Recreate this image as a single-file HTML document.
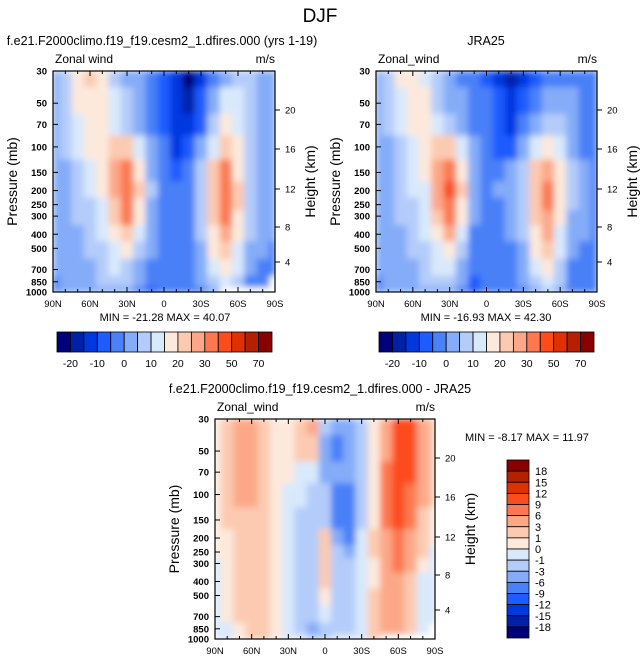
<!DOCTYPE html>
<html><head><meta charset="utf-8"><style>
html,body{margin:0;padding:0;background:#fff;}
svg{display:block;font-family:"Liberation Sans",sans-serif;}
</style></head><body>
<svg id="chart" width="641" height="664" viewBox="0 0 641 664" xmlns="http://www.w3.org/2000/svg">
<defs>
<filter id="smooth" x="0" y="0" width="1" height="1" filterUnits="objectBoundingBox"><feGaussianBlur stdDeviation="3.2" edgeMode="duplicate"/></filter>
</defs>
<text x="320" y="22" font-size="19" text-anchor="middle">DJF</text>
</svg>
<script>
const lats = [90,80,70,60,50,40,30,20,10,0,-10,-20,-30,-40,-50,-60,-70,-80,-90];
const plevs = [30,50,70,100,150,200,250,300,400,500,700,850,1000];
const modelU = [
[2,8,17,21,15,8,4,2,-2,-6,-12,-22,-13,-4,3,6,5,2,1],
[2,7,15,19,17,10,6,3,-2,-7,-14,-17,-9,2,11,12,8,3,1],
[1,6,12,17,18,14,8,4,-1,-6,-13,-14,-6,6,16,14,8,3,1],
[1,5,10,15,18,24,22,10,2,-4,-11,-10,0,14,20,15,8,3,1],
[1,4,8,12,16,26,33,18,4,-3,-8,-5,5,20,30,18,8,3,1],
[1,4,7,10,15,26,35,20,5,-2,-4,-2,8,24,33,20,8,3,1],
[1,3,6,9,14,24,34,18,4,-2,-3,-2,8,24,32,20,8,3,1],
[1,3,5,8,13,22,30,16,3,-3,-3,-2,7,22,30,18,7,2,1],
[1,2,4,7,11,17,22,12,1,-3,-3,-2,5,18,26,16,5,2,0],
[1,2,3,6,9,14,17,8,0,-3,-3,-2,3,15,22,14,3,0,-1],
[0,1,2,4,7,10,9,3,-4,-3,-2,-2,1,10,17,10,1,-2,-3],
[-2,0,1,3,5,7,5,0,-5,-4,-3,-3,0,6,12,6,-1,-3,null],
[-3,0,1,2,4,3,1,-3,-6,-3,-3,-4,-1,3,null,null,null,null,null]];
const jraU = [
[1,6,15,18,14,8,3,-1,-3,-8,-12,-18,-12,-6,-3,-2,-2,-2,-2],
[1,6,14,17,15,9,4,0,-2,-2,-10,-14,-8,-2,2,3,0,-2,-2],
[1,5,11,15,15,12,7,2,-1,-5,-9,-11,-4,4,8,6,1,-2,-2],
[1,4,9,13,16,22,24,10,0,-4,-8,-7,2,14,18,12,3,-1,-2],
[1,3,7,11,15,28,36,18,2,-3,-2,1,7,20,26,16,5,0,-1],
[1,3,6,10,14,28,41,20,3,-3,0,2,9,24,30,18,5,0,-1],
[1,3,6,9,13,26,38,18,2,-4,-1,2,9,24,31,18,5,0,-1],
[1,3,5,8,12,24,34,15,0,-4,-2,1,8,22,28,17,4,0,-1],
[1,2,4,7,10,18,26,10,-1,-4,-3,0,6,18,25,14,3,0,-1],
[1,2,3,6,9,14,18,6,-2,-4,-3,-1,3,15,21,12,1,-1,-2],
[0,1,2,4,7,10,10,2,-4,-5,-3,-2,1,10,16,8,-1,-2,-2],
[-1,0,1,3,5,7,5,0,-6,-5,-3,-3,0,6,11,5,-2,-3,-2],
[-2,0,1,2,3,3,1,-3,-7,-4,-3,-4,-1,3,5,1,-2,-3,-2]];
const diffU = [
[0.5,2,4,4,2,0.5,0.5,2,4,-2,-4,-4,-2,0.5,4,10,10,4,2],
[0.5,2,4,4,2,0.5,0.5,1,2,-4,-7,-4,-2,0.5,5,11,11,4,2],
[0.5,2,4,4,2,0.5,0.5,-0.5,-1,-4,-5,-6,-2,0.5,6,11,10,4,1],
[0.5,1.5,3,4,2,0.5,-0.5,-1,-2,-3,-8,-8,-2,0.5,7,10,7,3,1],
[0.5,1,2,2,2,0.5,-0.5,-2,-2,-2,-7,-8,-2,0.5,7,9,6,2,0.5],
[0.2,0.5,2,2,1.5,0.5,-0.5,-2,-2,2,-4,-7,-1,1.5,5,8,5,2,0.5],
[0.2,0.5,1.5,2,1.5,0.5,-0.5,-2,-2,2,-3,-4,-0.5,1,4,7,4,1,-0.5],
[-0.5,0.5,1.5,2,1.5,0.5,-0.5,-2,-3,2,-3,-3,-0.5,0.5,4,6,3,0.5,-0.5],
[-0.5,0.5,1.5,2,1,0.5,-0.5,-2,-3,2,-2,-2,-0.5,0.5,4,5,2,-0.5,-0.5],
[-0.5,0.5,1,2,1,0.5,-0.5,-2,-2,0.5,-1.5,-2,-0.5,1,4,5,2,-0.5,-0.5],
[-0.5,0.5,1,2,1,0.5,-0.5,-2,-3,-1,-1.5,-2,-0.5,1,4,5,2,-0.5,-1],
[-0.5,-0.5,0.5,1.5,1,0.5,-0.5,-2,-4,-2,-1.5,-1.5,-0.5,1,4,4,1,-0.5,null],
[-0.5,-0.5,0.5,1,1,0.5,-0.5,-1,-3,-2,-1,-1,-0.5,1,null,null,null,null,null]];
const levelsTop = [-20,-15,-10,-5,0,5,10,15,20,25,30,40,50,60,70];
const labelsTop = ["-20","-10","0","10","20","30","50","70"];
const levelsDiff = [-18,-15,-12,-9,-6,-3,-1,0,1,3,6,9,12,15,18];
const palette = ["#00007a","#0020a8","#0038e0","#1e5cff","#4a80f8","#84acf8","#b4ccfa","#d9e9fc","#fde9dc","#fccab0","#fca888","#fc7850","#fc4c1c","#e03000","#b42000","#8a0000"];
const pTicks = [30,50,70,100,150,200,250,300,400,500,700,850,1000];
const hTicks = [20,16,12,8,4];
const hOffsets = [39,78,118,156,191];
const xLabels = ["90N","60N","30N","0","30S","60S","90S"];

const svg = document.getElementById('chart');
const NS = "http://www.w3.org/2000/svg";
function mk(tag, attrs, parent){const e=document.createElementNS(NS,tag);for(const k in attrs)e.setAttribute(k,attrs[k]);(parent||svg).appendChild(e);return e;}
function txt(x,y,s,size,anchor,parent){const t=mk('text',{x:x,y:y,'font-size':size,'text-anchor':anchor||'start'},parent);t.textContent=s;return t;}
function colorOf(v,levels){let b=0;for(const l of levels) if(v>=l) b++;return palette[b];}

function drawPanel(cfg){
  const {x0,y0,w,h,grid,levels,name}=cfg;
  const g=mk('g',{});
  
  
  const xS = lat => x0 + (90-lat)/180*w;
  const yS = p => y0 + Math.log(p/30)/Math.log(1000/30)*h;
  const cp=mk('clipPath',{id:'clip-'+name},g);
  mk('rect',{x:x0,y:y0,width:w,height:h},cp);
  const outer=mk('g',{'clip-path':`url(#clip-${name})`},g);
  const cells=mk('g',{filter:'url(#smooth)'},outer);
  mk('rect',{x:x0,y:y0,width:w,height:h,fill:'#fff'},cells);
  for(let r=0;r<plevs.length;r++){
    const pTop = r===0?30:Math.sqrt(plevs[r]*plevs[r-1]);
    const pBot = r===plevs.length-1?1000:Math.sqrt(plevs[r]*plevs[r+1]);
    for(let c=0;c<lats.length;c++){
      const v=grid[r][c]; if(v===null) continue;
      const la=c===0?90:(lats[c]+lats[c-1])/2;
      const lb=c===lats.length-1?-90:(lats[c]+lats[c+1])/2;
      const x1=xS(la), x2=xS(lb), y1=yS(pTop), y2=yS(pBot);
      const cell=mk('rect',{x:x1.toFixed(2),y:y1.toFixed(2),width:(x2-x1+0.6).toFixed(2),height:(y2-y1+0.6).toFixed(2),fill:colorOf(v,levels)},cells);
      
      
    }
  }
  const frame=mk('rect',{x:x0,y:y0,width:w,height:h,fill:'none',stroke:'#000','stroke-width':1.2},g);
  
  
  for(let lat=90;lat>=-90;lat-=10){
    const x=xS(lat), major=(lat%30===0), L=major?5:3;
    mk('line',{x1:x,x2:x,y1:y0,y2:y0+L,stroke:'#000'},g);
    mk('line',{x1:x,x2:x,y1:y0+h,y2:y0+h-L,stroke:'#000'},g);
  }
  xLabels.forEach((s,i)=>{const t=txt(xS(90-30*i),y0+h+15,s,9.5,'middle',g);
    
    });
  pTicks.forEach(p=>{const y=yS(p);
    mk('line',{x1:x0,x2:x0+5,y1:y,y2:y,stroke:'#000'},g);
    const t=txt(x0-6,y+3.5,String(p),9.5,'end',g);t.setAttribute('font-weight','bold');
    
    });
  hTicks.forEach((km,i)=>{const y=y0+hOffsets[i];
    mk('line',{x1:x0+w,x2:x0+w+5,y1:y,y2:y,stroke:'#000'},g);
    const t=txt(x0+w+10,y+3.5,String(km),9.5,'start',g);
    
    });
  const yt=txt(0,0,'Pressure (mb)',14,'middle',g);
  yt.setAttribute('transform',`translate(${x0-36},${y0+h/2}) rotate(-90)`);
  
  
  const ht=txt(0,0,'Height (km)',14,'middle',g);
  ht.setAttribute('transform',`translate(${x0+w+40},${y0+h/2}) rotate(-90)`);
  
  
  const zw=txt(x0+2,y0-8,cfg.varName,12,'start',g);
  
  
  const un=txt(x0+w,y0-8,'m/s',12,'end',g);
  
  
  const ti=txt(cfg.titleX,y0-26,cfg.title,12.5,'middle',g);
  
  
}
function hColorbar(x0,y0,w,h,name){
  const g=mk('g',{});
  
  
  const bw=w/palette.length;
  palette.forEach((c,i)=>{const r=mk('rect',{x:x0+i*bw,y:y0,width:bw,height:h,fill:c,stroke:'#000','stroke-width':0.8},g);
    
    });
  labelsTop.forEach((s,i)=>{const t=txt(x0+bw*(1+2*i),y0+h+15,s,10.5,'middle',g);
    
    });
}
function stat(x,y,s,name){const t=txt(x,y,s,11,'middle');
  
  }

drawPanel({x0:53,y0:71,w:222,h:221,grid:modelU,levels:levelsTop,name:'model',varName:'Zonal wind',title:'f.e21.F2000climo.f19_f19.cesm2_1.dfires.000 (yrs 1-19)',titleX:162});
drawPanel({x0:376,y0:71,w:221,h:221,grid:jraU,levels:levelsTop,name:'jra25',varName:'Zonal_wind',title:'JRA25',titleX:486});
drawPanel({x0:215,y0:419,w:220,h:220,grid:diffU,levels:levelsDiff,name:'difference',varName:'Zonal_wind',title:'f.e21.F2000climo.f19_f19.cesm2_1.dfires.000 - JRA25',titleX:320});
stat(165,321,'MIN = -21.28  MAX =  40.07','model-min-max');
stat(486,321,'MIN = -16.93  MAX =  42.30','jra-min-max');
const dm=txt(465,441,'MIN =  -8.17  MAX =  11.97',11,'start');


hColorbar(57,332,215,20,'model-colorbar');
hColorbar(379,332,215,20,'jra-colorbar');
(function(){
  const x0=507,y0=460,w=22,h=178;
  const g=mk('g',{});
  
  
  const bh=h/palette.length;
  palette.slice().reverse().forEach((c,i)=>{const r=mk('rect',{x:x0,y:y0+i*bh,width:w,height:bh,fill:c,stroke:'#000','stroke-width':0.8},g);
    
    });
  levelsDiff.slice().reverse().forEach((l,i)=>{const t=txt(x0+w+6,y0+bh*(i+1)+4,String(l),11,'start',g);
    
    });
})();
</script>
</body></html>
